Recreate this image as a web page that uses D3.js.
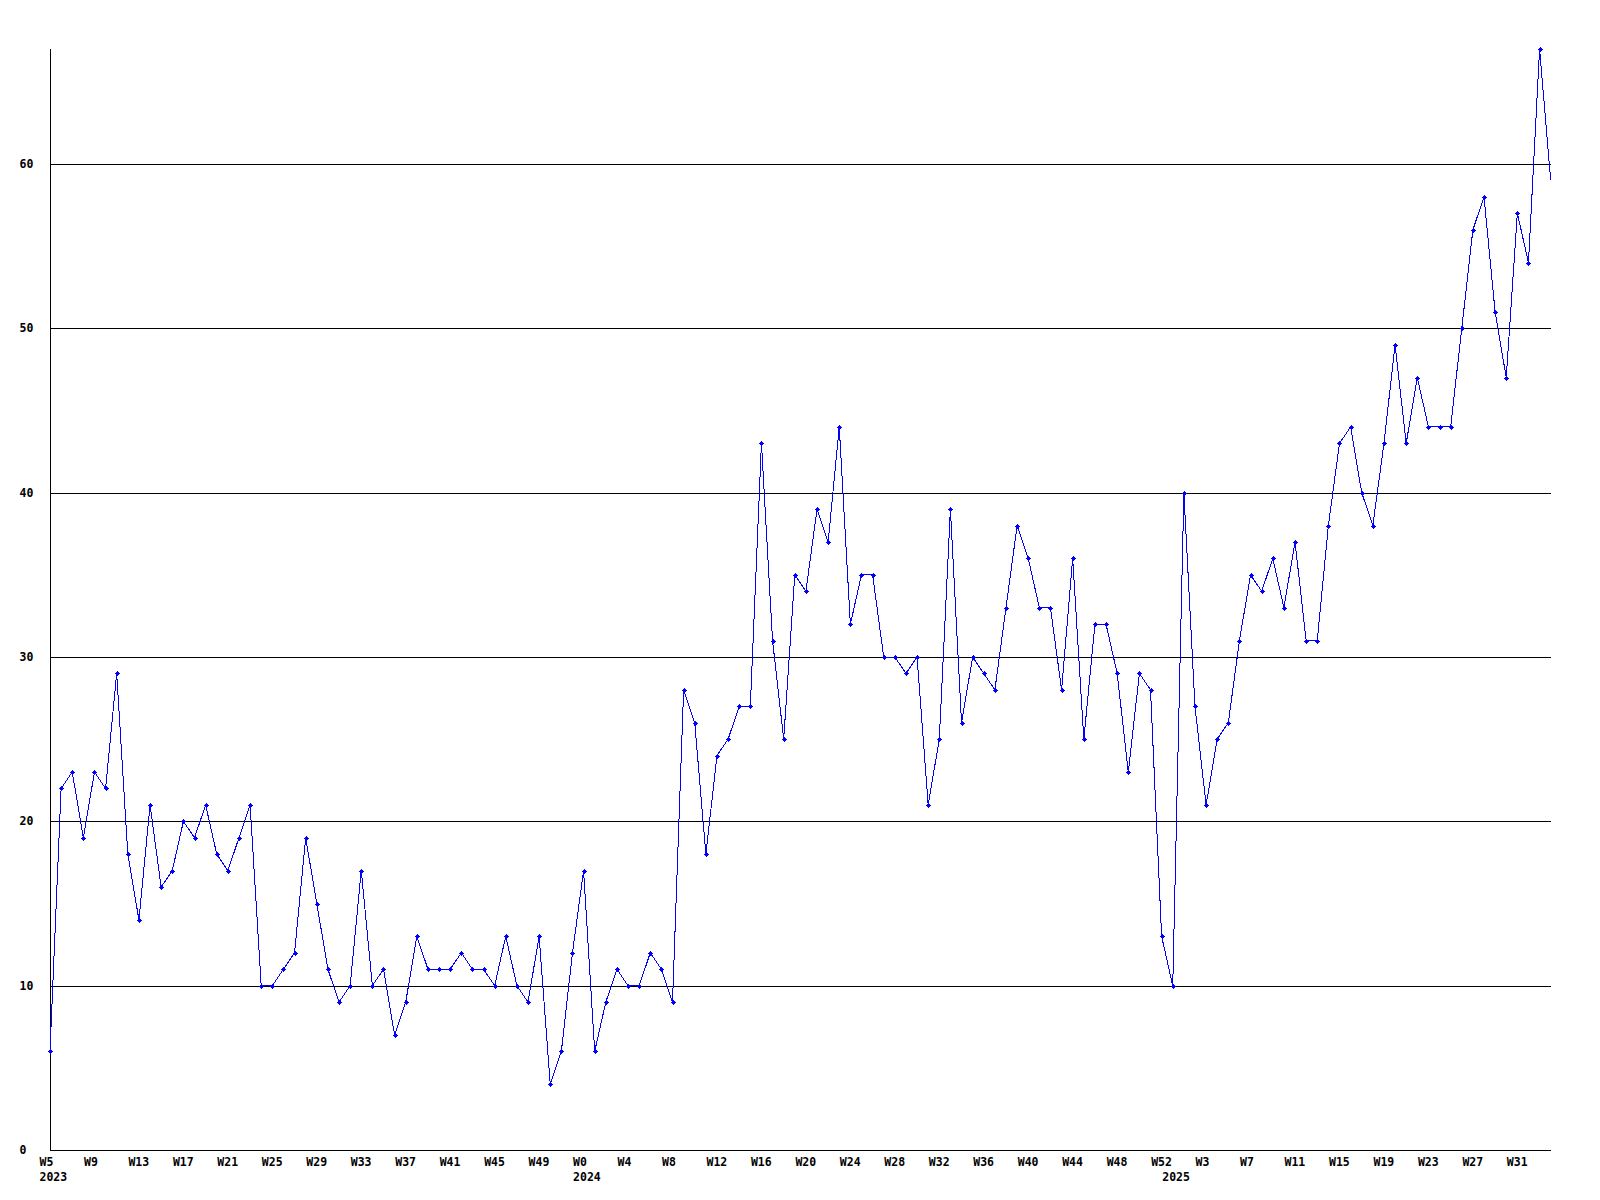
<!DOCTYPE html>
<html><head><meta charset="utf-8">
<script src="https://cdn.jsdelivr.net/npm/d3@7/dist/d3.min.js"></script>
<style>
html,body{margin:0;padding:0;background:#fff}
svg{display:block}
text{font-family:"DejaVu Sans Mono","Liberation Mono",monospace;font-weight:bold;font-size:11.5px;fill:#000}
</style>
</head><body>
<svg id="chart" width="1600" height="1200"></svg>
<script>
// ---- data ----
const years = [2023, 2024, 2025];
const yearFirstWeek = [5, 0, 0];
const yearWeekCount = [48, 53, 35];
const values = [
  6,22,23,19,23,22,29,18,14,21,
  16,17,20,19,21,18,17,19,21,10,
  10,11,12,19,15,11,9,10,17,10,
  11,7,9,13,11,11,11,12,11,11,
  10,13,10,9,13,4,6,12,17,6,
  9,11,10,10,12,11,9,28,26,18,
  24,25,27,27,43,31,25,35,34,39,
  37,44,32,35,35,30,30,29,30,21,
  25,39,26,30,29,28,33,38,36,33,
  33,28,36,25,32,32,29,23,29,28,
  13,10,40,27,21,25,26,31,35,34,
  36,33,37,31,31,38,43,44,40,38,
  43,49,43,47,44,44,44,50,56,58,
  51,47,57,54,67,59
];
const yTicks = [0,10,20,30,40,50,60];
const yMax = 67;
const labelEvery = 4;

(function () {
  // categories built from years
  const weeks = [];
  years.forEach((yr, i) => {
    for (let k = 0; k < yearWeekCount[i]; k++) {
      weeks.push({year: yr, week: yearFirstWeek[i] + k, first: k === 0});
    }
  });
  const points = values.map((v, i) => ({i, v, wk: weeks[i]}));

  // ---- layout ----
  const svg = d3.select('#chart');
  const mLeft = 50, mRight = 1551, mTop = 49, mBottom = 1150;
  const x = d3.scaleLinear().domain([0, values.length - 1]).range([mLeft, mRight - 0.3]);
  const y = d3.scaleLinear().domain([0, yMax]).range([mBottom, mTop]);

  // gridlines
  svg.append('g').selectAll('line').data(yTicks).join('line')
    .attr('x1', mLeft).attr('x2', mRight)
    .attr('y1', d => Math.round(y(d)) + 0.5).attr('y2', d => Math.round(y(d)) + 0.5)
    .attr('stroke', '#000').attr('stroke-width', 1).attr('shape-rendering', 'crispEdges');

  // left axis
  svg.append('line')
    .attr('x1', mLeft + 0.5).attr('x2', mLeft + 0.5)
    .attr('y1', y(yMax)).attr('y2', mBottom + 0.5)
    .attr('stroke', '#000').attr('shape-rendering', 'crispEdges');

  // y labels
  svg.append('g').selectAll('text').data(yTicks).join('text')
    .attr('x', 19.5).attr('y', d => y(d) + 4)
    .text(d => d);

  // x week labels
  svg.append('g').selectAll('text')
    .data(points.filter(p => p.i % labelEvery === 0)).join('text')
    .attr('x', p => x(p.i) - 10.5).attr('y', 1166)
    .text(p => 'W' + p.wk.week);

  // year labels
  svg.append('g').selectAll('text')
    .data(points.filter(p => p.wk.first)).join('text')
    .attr('x', p => x(p.i) - 10.5).attr('y', 1181)
    .text(p => p.wk.year);

  // clip (right side only)
  svg.append('clipPath').attr('id', 'plotclip')
    .append('rect').attr('x', 0).attr('y', 0).attr('width', mRight).attr('height', mBottom + 5);

  const plot = svg.append('g').attr('clip-path', 'url(#plotclip)');

  plot.append('path').datum(points)
    .attr('d', d3.line().x(p => x(p.i)).y(p => y(p.v)))
    .attr('fill', 'none').attr('stroke', '#0000ff').attr('stroke-width', 1)
    .attr('shape-rendering', 'crispEdges');

  const marker = 'M-2.5,-0.5h5v1h-5z M-0.5,-2.5h1v5h-1z M-1.5,-1.5h3v3h-3z';
  plot.append('g').selectAll('path').data(points.slice(0, -1)).join('path')
    .attr('d', marker)
    .attr('transform', p => `translate(${Math.round(x(p.i)) + 0.5},${Math.round(y(p.v)) + 0.5})`)
    .attr('fill', '#0000ff').attr('shape-rendering', 'crispEdges');
})();
</script>
</body></html>
